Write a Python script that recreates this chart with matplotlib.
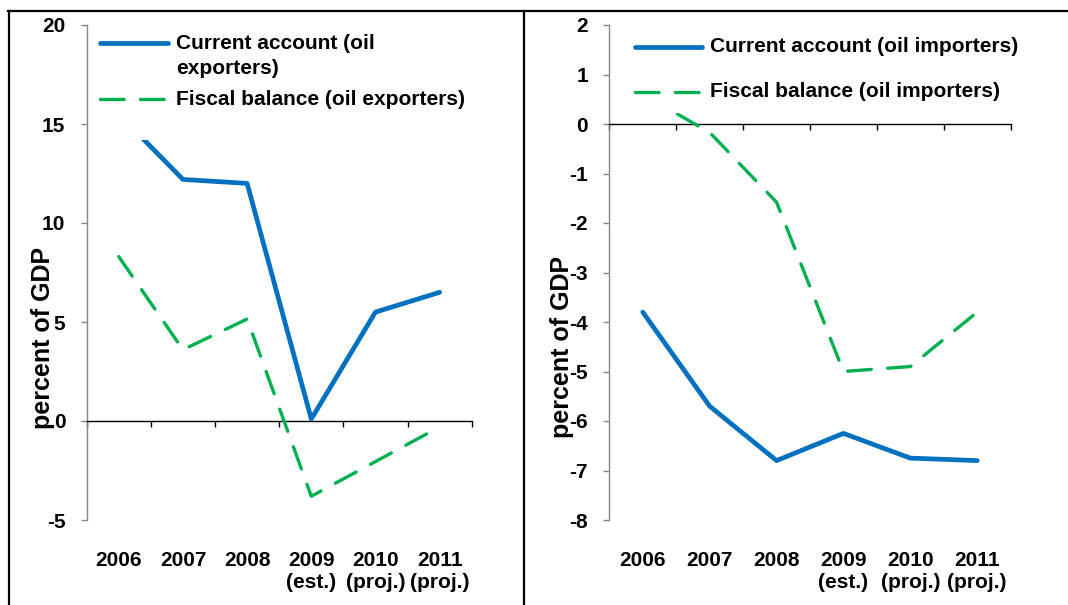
import matplotlib
matplotlib.use("Agg")
import matplotlib.pyplot as plt
from matplotlib.lines import Line2D
import numpy as np

plt.rcParams['font.family'] = ['Liberation Sans', 'DejaVu Sans']
plt.rcParams['font.weight'] = 'bold'
plt.rcParams['lines.scale_dashes'] = False

# ---- data ----
categories = ["2006", "2007", "2008", "2009\n(est.)", "2010\n(proj.)", "2011\n(proj.)"]
ca_exporters = [15.5, 12.2, 12.0, 0.1, 5.5, 6.5]
fb_exporters = [8.3, 3.6, 5.15, -3.8, -2.05, -0.3]
ca_importers = [-3.8, -5.7, -6.8, -6.25, -6.75, -6.8]
fb_importers = [0.6, -0.17, -1.58, -5.0, -4.9, -3.8]

left_yticks = [-5, 0, 5, 10, 15, 20]
right_yticks = list(range(-8, 3))

left_labels = ["Current account (oil\nexporters)", "Fiscal balance (oil exporters)"]
right_labels = ["Current account (oil importers)", "Fiscal balance (oil importers)"]
ylabel_text = "percent of GDP"

# ---- styling ----
W, H = 1068, 605
fig = plt.figure(figsize=(W / 100, H / 100), dpi=100)
BLUE = '#0070C0'
GREEN = '#00B050'
FS = 15


def fx(px):
    return px / W


def fy(py):
    return 1 - py / H


def make_panel(rect_px, yticks, ca, fb):
    x0, y0, x1, y1 = rect_px
    ax = fig.add_axes([fx(x0), fy(y1), (x1 - x0) / W, (y1 - y0) / H])
    ax.set_zorder(1)
    x = np.arange(len(categories))
    ax.plot(x, ca, color=BLUE, lw=3.4, solid_joinstyle='round',
            solid_capstyle='round', zorder=3)
    ax.plot(x, fb, color=GREEN, lw=2.4, dashes=(17, 11.8),
            dash_capstyle='round', dash_joinstyle='round', zorder=3)
    ax.set_xlim(-0.5, len(categories) - 0.5)
    ax.set_ylim(yticks[0], yticks[-1])
    ax.set_yticks(yticks)
    ax.set_yticklabels([str(t) for t in yticks], fontsize=FS, fontweight='bold')
    ax.tick_params(axis='y', length=4.3, width=1, color='#868686', pad=11)
    for s in ('top', 'right'):
        ax.spines[s].set_visible(False)
    ax.spines['left'].set_color('#868686')
    ax.spines['left'].set_linewidth(1.0)
    ax.spines['bottom'].set_position(('data', 0))
    ax.spines['bottom'].set_color('black')
    ax.spines['bottom'].set_linewidth(1.0)
    ax.set_xticks(np.arange(-0.5, len(categories), 1.0))
    ax.set_xticklabels([])
    ax.tick_params(axis='x', length=4.3, width=1, color='black', direction='out')
    trans = ax.get_xaxis_transform()
    ytop = (y1 - 551) / (y1 - y0)
    for i, c in enumerate(categories):
        ax.text(i, ytop, c, transform=trans, ha='center', va='top',
                fontsize=FS, fontweight='bold', linespacing=1.17)
    ax.patch.set_alpha(0)
    return ax


def make_legend(rect_px):
    # rect in pixels (left, top, right, bottom)
    x0, y0, x1, y1 = rect_px
    lax = fig.add_axes([fx(x0), fy(y1), (x1 - x0) / W, (y1 - y0) / H])
    lax.set_zorder(5)
    lax.set_facecolor('white')
    lax.set_xlim(x0, x1)
    lax.set_ylim(y1, y0)
    lax.set_xticks([])
    lax.set_yticks([])
    for s in lax.spines.values():
        s.set_visible(False)
    return lax


# panels
axL = make_panel((86.7, 25, 471.7, 520), left_yticks, ca_exporters, fb_exporters)
axR = make_panel((609.3, 25, 1010.7, 520), right_yticks, ca_importers, fb_importers)

# legends
lL = make_legend((92, 27, 475, 140))
lL.plot([100, 168], [42.7, 42.7], color=BLUE, lw=3.4, solid_capstyle='round')
lL.plot([100, 168], [99.3, 99.3], color=GREEN, lw=2.4, dashes=(17, 11.8),
        dash_capstyle='round')
lL.text(176, 56, left_labels[0], ha='left', va='center', fontsize=FS,
        fontweight='bold', linespacing=1.37)
lL.text(176, 99.3, left_labels[1], ha='left', va='center', fontsize=FS,
        fontweight='bold')

lR = make_legend((628, 27, 1045, 113))
lR.plot([635, 702], [46.7, 46.7], color=BLUE, lw=3.4, solid_capstyle='round')
lR.plot([635, 702], [91.7, 91.7], color=GREEN, lw=2.4, dashes=(17, 11.8),
        dash_capstyle='round')
lR.text(710, 46.7, right_labels[0], ha='left', va='center', fontsize=FS,
        fontweight='bold')
lR.text(710, 91.7, right_labels[1], ha='left', va='center', fontsize=FS,
        fontweight='bold')

# y labels
fig.text(fx(43), fy(338), ylabel_text, rotation=90, ha='center', va='center',
         fontsize=18, fontweight='bold', zorder=10)
fig.text(fx(562), fy(347), ylabel_text, rotation=90, ha='center', va='center',
         fontsize=18, fontweight='bold', zorder=10)

# frame lines
for (xa, ya, xb, yb) in [(8, 11, 1068, 11), (9, 11, 9, 605), (524, 11, 524, 605)]:
    fig.add_artist(Line2D([fx(xa), fx(xb)], [fy(ya), fy(yb)], color='black',
                          lw=1.6, transform=fig.transFigure))

fig.savefig('out.png', dpi=100)
